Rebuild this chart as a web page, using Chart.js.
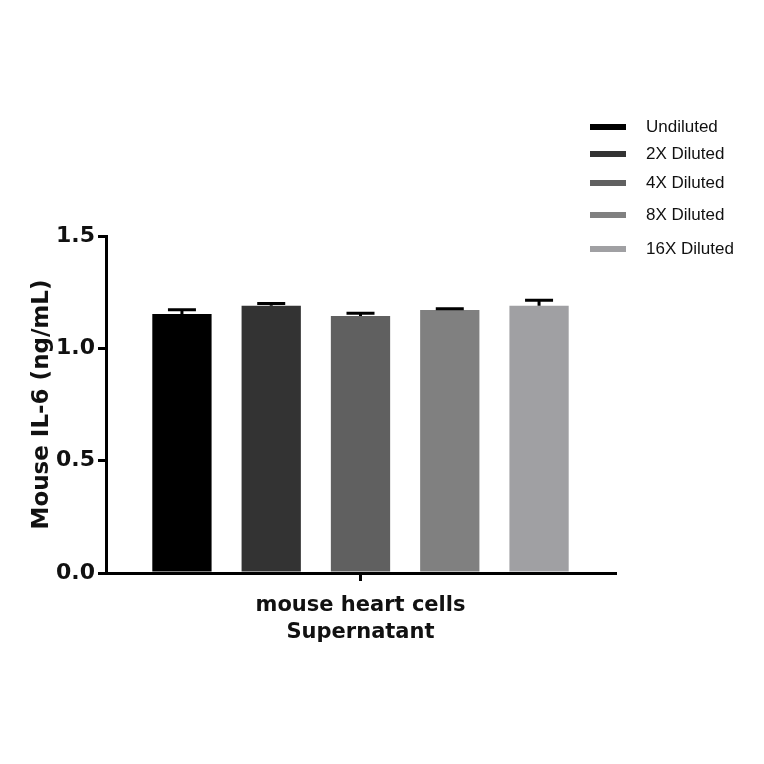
<!DOCTYPE html>
<html>
<head>
<meta charset="utf-8">
<script src="https://cdn.jsdelivr.net/npm/chart.js@4/dist/chart.umd.min.js"></script>
<style>
  html, body { margin: 0; padding: 0; background: #fff; }
  #wrap { width: 764px; height: 764px; }
</style>
</head>
<body>
<div id="wrap"><canvas id="c" width="764" height="764"></canvas></div>
<script>
const categories = [['mouse heart cells', 'Supernatant']];
const seriesLabels = ['Undiluted', '2X Diluted', '4X Diluted', '8X Diluted', '16X Diluted'];
const seriesMeans = [1.153, 1.190, 1.144, 1.171, 1.190];
const seriesErrors = [0.019, 0.010, 0.012, 0.005, 0.024];
const seriesColors = ['#000000', '#333333', '#606060', '#808080', '#a0a0a3'];
const yTickValues = [0, 0.5, 1.0, 1.5];
const yTitle = 'Mouse IL-6 (ng/mL)';

const datasets = seriesLabels.map((lab, i) => ({
  label: lab,
  data: [seriesMeans[i]],
  errs: [seriesErrors[i]],
  backgroundColor: seriesColors[i],
  borderWidth: 0,
  categoryPercentage: 0.877,
  barPercentage: 0.664
}));

const errorBars = {
  id: 'errorBars',
  afterDatasetsDraw(chart) {
    const ctx = chart.ctx;
    const y = chart.scales.y;
    ctx.save();
    ctx.strokeStyle = '#000';
    ctx.lineWidth = 3;
    chart.data.datasets.forEach((ds, di) => {
      const meta = chart.getDatasetMeta(di);
      meta.data.forEach((bar, j) => {
        const top = y.getPixelForValue(ds.data[j] + ds.errs[j]);
        ctx.beginPath();
        ctx.moveTo(bar.x, bar.y);
        ctx.lineTo(bar.x, top);
        ctx.moveTo(bar.x - 14, top);
        ctx.lineTo(bar.x + 14, top);
        ctx.stroke();
      });
    });
    ctx.restore();
  }
};

const customLegend = {
  id: 'customLegend',
  afterDraw(chart) {
    const ctx = chart.ctx;
    const rows = [127, 154, 183, 215, 249];
    ctx.save();
    ctx.font = '17px "Liberation Sans", Arial, sans-serif';
    ctx.textBaseline = 'middle';
    ctx.textAlign = 'left';
    chart.data.datasets.forEach((ds, i) => {
      const yy = rows[i];
      ctx.fillStyle = ds.backgroundColor;
      ctx.fillRect(590, yy - 3, 36, 6);
      ctx.fillStyle = '#111';
      ctx.fillText(ds.label, 646, yy);
    });
    ctx.restore();
  }
};

new Chart(document.getElementById('c'), {
  type: 'bar',
  data: { labels: categories, datasets },
  options: {
    responsive: false,
    animation: false,
    devicePixelRatio: 1,
    layout: { padding: { left: 0, top: 236, right: 149, bottom: 0 } },
    plugins: { legend: { display: false }, tooltip: { enabled: false } },
    scales: {
      x: {
        afterFit(s) { s.height = 191; },
        grid: { offset: false, drawOnChartArea: false, drawTicks: true, tickLength: 8, color: '#000', lineWidth: 3 },
        border: { display: true, color: '#000', width: 3 },
        ticks: {
          color: '#111',
          padding: 11,
          font: { family: '"DejaVu Sans", sans-serif', weight: 'bold', size: 21, lineHeight: 1.3 }
        }
      },
      y: {
        min: 0, max: 1.5,
        afterFit(s) { s.width = 106; },
        afterBuildTicks(s) { s.ticks = yTickValues.map(v => ({ value: v })); },
        grid: { drawOnChartArea: false, drawTicks: true, tickLength: 8, color: '#000', lineWidth: 3 },
        border: { display: true, color: '#000', width: 3 },
        ticks: {
          color: '#111',
          padding: 3,
          callback: v => Number(v).toFixed(1),
          font: { family: '"DejaVu Sans", sans-serif', weight: 'bold', size: 22 }
        },
        title: {
          display: true,
          text: yTitle,
          color: '#111',
          padding: { top: 28, bottom: 0 },
          font: { family: '"DejaVu Sans", sans-serif', weight: 'bold', size: 23 }
        }
      }
    }
  },
  plugins: [errorBars, customLegend]
});
</script>
</body>
</html>
